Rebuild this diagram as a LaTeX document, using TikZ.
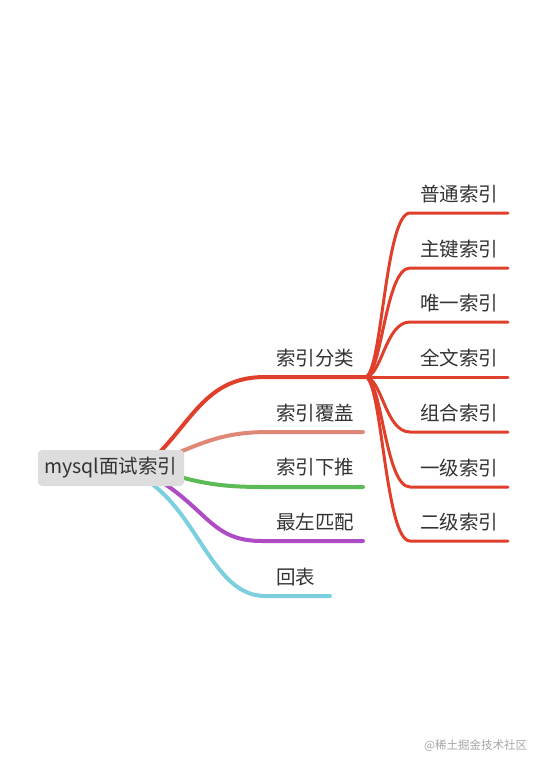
\documentclass[tikz,border=0pt]{standalone}
\usepackage{fontspec}
\setmainfont{Noto Sans CJK SC}
\definecolor{cred}{HTML}{DF3F2B}
\definecolor{csalmon}{HTML}{E08878}
\definecolor{cgreen}{HTML}{5CBA57}
\definecolor{cpurple}{HTML}{AD4CC4}
\definecolor{ccyan}{HTML}{7BCFDF}
\definecolor{ctext}{HTML}{333333}
\definecolor{croot}{HTML}{DDDDDD}
\begin{document}
\begin{tikzpicture}[x=1pt,y=-1pt,
  lbl/.style={anchor=west,inner sep=0pt,text=ctext,font=\fontsize{19.5}{22}\selectfont},
  rootbox/.style={fill=croot,rounded corners=4pt,minimum width=146pt,minimum height=36pt,inner sep=0pt,text=ctext,font=\fontsize{19.5}{22}\selectfont},
  mainline/.style={line width=4pt,line cap=round},
  subline/.style={line width=3pt,line cap=round,cred},
]
\useasboundingbox (0,0) rectangle (544,772);
\fill[white] (0,0) rectangle (544,772);

% main branches (drawn before root so root sits on top)
\coordinate (r1) at (160,452);
\coordinate (r2) at (180,452);
\coordinate (r3) at (180,477);
\coordinate (r4) at (165,484);
\coordinate (r5) at (152,484);
\coordinate (fork) at (365,377);
\coordinate (e1) at (265,377);
\coordinate (e2) at (270,432);
\coordinate (f2) at (363,432);
\coordinate (e3) at (265,487);
\coordinate (f3) at (363,487);
\coordinate (e4) at (262,541);
\coordinate (f4) at (363,541);
\coordinate (e5) at (265,596);
\coordinate (f5) at (330,596);

\draw[mainline,cred] (r1) .. controls (195,415) and (210,377) .. (e1) -- (fork);
\draw[mainline,csalmon] (r2) .. controls (215,437) and (235,432) .. (e2) -- (f2);
\draw[mainline,cgreen] (r3) .. controls (210,485) and (230,487) .. (e3) -- (f3);
\draw[mainline,cpurple] (r4) .. controls (210,515) and (215,541) .. (e4) -- (f4);
\draw[mainline,ccyan] (r5) .. controls (200,520) and (215,596) .. (e5) -- (f5);

\node[rootbox] (root) at (111,468) {mysql面试索引};

\node[lbl] (l1) at (276,358) {索引分类};
\node[lbl] (l2) at (276,413) {索引覆盖};
\node[lbl] (l3) at (276,467) {索引下推};
\node[lbl] (l4) at (276,522) {最左匹配};
\node[lbl] (l5) at (276,577) {回表};

% sub branches
\foreach \y/\t [count=\i] in {213/普通索引,268/主键索引,322/唯一索引,377/全文索引,432/组合索引,487/一级索引,541/二级索引}{
  \coordinate (s\i) at (410,\y);
  \coordinate (t\i) at (508,\y);
  \draw[subline] (fork) .. controls (382,377) and (385,\y) .. (s\i) -- (t\i);
  \node[lbl] (n\i) at (420,\y-19) {\t};
}

\node[anchor=west,inner sep=0pt,text=black!35,font=\fontsize{11.5}{13}\selectfont] (wm) at (424,746) {@稀土掘金技术社区};
\end{tikzpicture}
\end{document}
